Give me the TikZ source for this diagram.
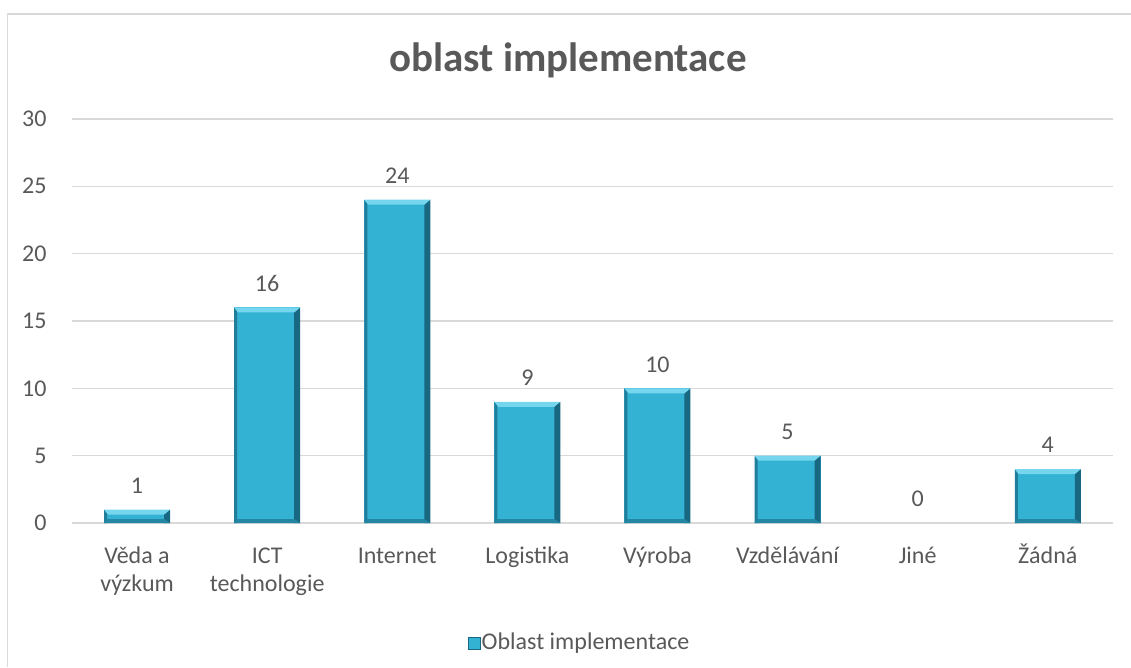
\documentclass[tikz,border=0pt]{standalone}
\usepackage{fontspec}
\setmainfont{Carlito}
\definecolor{chartgrid}{RGB}{217, 217, 217}
\definecolor{charttext}{RGB}{89, 89, 89}
\definecolor{barmain}{RGB}{52, 178, 212}
\definecolor{bardark}{RGB}{24, 104, 130}
\definecolor{barlight}{RGB}{118, 214, 238}
\usepackage{tikz}

\tikzset{
  ticklabel/.style={text=charttext, anchor=east, font=\fontsize{24}{28}\selectfont},
  valuelabel/.style={text=charttext, font=\fontsize{24}{28}\selectfont},
  catlabel/.style={text=charttext, anchor=base, align=center, font=\fontsize{24}{28}\selectfont},
  gridline/.style={draw=chartgrid, line width=1.5pt},
}

\begin{document}
\begin{tikzpicture}[x=1pt, y=-1pt]
  \useasboundingbox (0,0) rectangle (1131,667);
  % frame
  \draw[chartgrid, line width=1.5pt] (7.5,667) -- (7.5,14) -- (1131,14);
  % title
  \node[text=charttext, font=\fontsize{41}{48}\selectfont\bfseries] (title) at (568,60) {oblast implementace};
  % grid and y labels
  \foreach \v in {0,5,...,30} {
    \draw[gridline] (72,{523-13.47*\v}) -- (1113,{523-13.47*\v});
    \node[ticklabel] (y\v) at (50,{523-13.47*\v}) {\v};
  }
  % bars (last field: baseline of the last label line)
  \foreach \i/\v/\name/\by in {1/1/{Věda a\\výzkum}/591, 2/16/{ICT\\technologie}/591, 3/24/Internet/563, 4/9/Logistika/563, 5/10/Výroba/563, 6/5/Vzdělávání/563, 7/0/Jiné/563, 8/4/Žádná/563} {
    \pgfmathsetmacro{\xc}{72+130.1*(\i-0.5)}
    \pgfmathsetmacro{\yt}{523-13.47*\v}
    \ifnum\v>0
      \fill[barmain] (\xc-33,523) rectangle (\xc+33,\yt);
      \fill[bardark] (\xc+27,523) -- (\xc+33,523) -- (\xc+33,\yt) -- (\xc+27,\yt+5) -- cycle;
      \fill[bardark!70!barmain] (\xc-33,523) -- (\xc-30,523) -- (\xc-30,\yt+4) -- (\xc-33,\yt) -- cycle;
      \fill[barlight] (\xc-33,\yt) -- (\xc+33,\yt) -- (\xc+27,\yt+5) -- (\xc-29,\yt+5) -- cycle;
      \fill[bardark!60!barmain] (\xc-33,523) -- (\xc+33,523) -- (\xc+27,519) -- (\xc-30,519) -- cycle;
    \fi
    \node[valuelabel] (v\i) at (\xc,\yt-24) {\v};
    \node[catlabel] (c\i) at (\xc,\by) {\name};
  }
  % legend
  \node[fill=barmain, draw=bardark, line width=1pt, minimum size=12pt, inner sep=0pt] (key) at (474,643) {};
  \node[text=charttext, anchor=west, inner sep=1pt, font=\fontsize{24}{28}\selectfont] (keytext) at (key.east) {Oblast implementace};
\end{tikzpicture}
\end{document}
